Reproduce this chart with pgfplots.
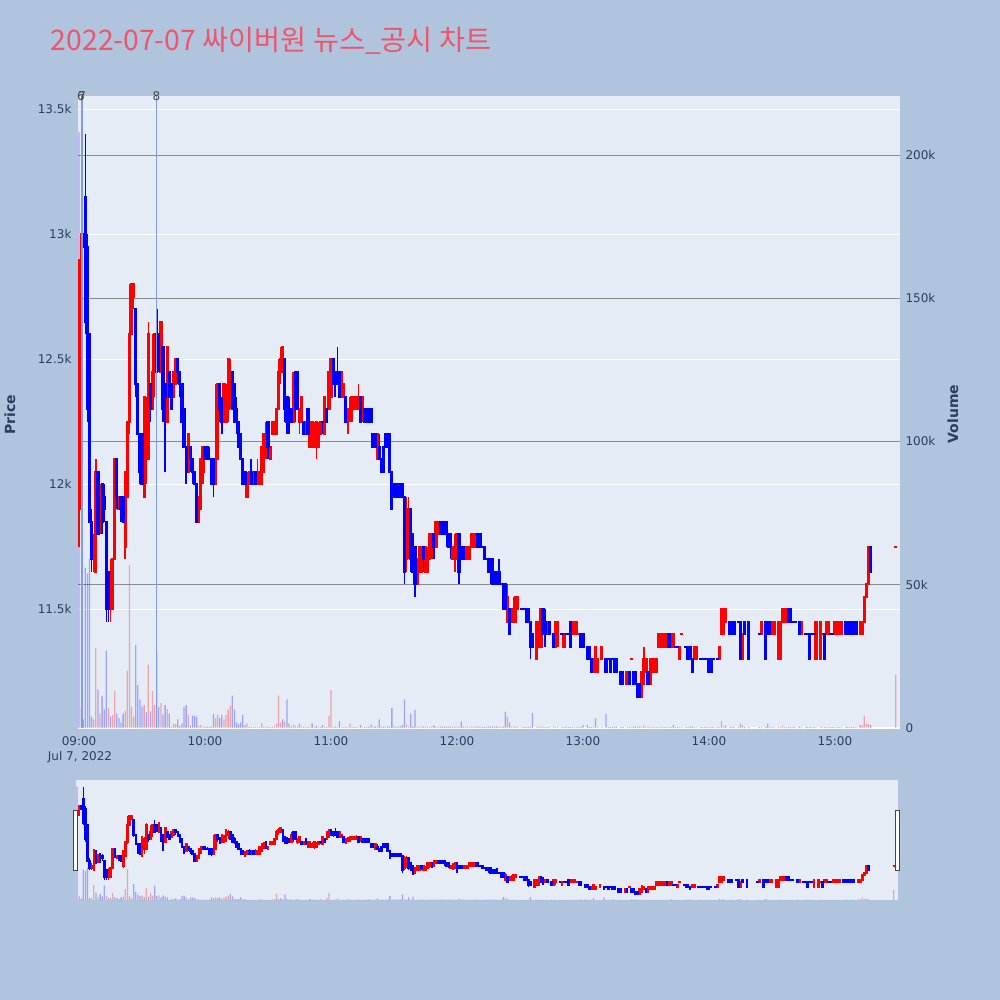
\documentclass[border=0pt]{standalone}
\usepackage{pgfplots}
\pgfplotsset{compat=1.18}
\usepackage{pgfplotstable}
\usepackage{fontspec}
\setmainfont{DejaVu Sans}
\newfontfamily\krfont{Noto Sans CJK KR}
\definecolor{paperbg}{RGB}{176,196,222}
\definecolor{plotbg}{RGB}{229,236,246}
\definecolor{tickc}{RGB}{42,63,95}
\definecolor{titlec}{RGB}{239,85,105}
\definecolor{gridg}{RGB}{140,140,140}
\definecolor{vlc}{RGB}{125,155,240}
\definecolor{labc}{RGB}{68,68,68}
\definecolor{upc}{RGB}{255,0,0}
\definecolor{dnc}{RGB}{0,0,255}

\pgfplotstableread{
m o h l c v vd
0 11900 12900 11750 12850 208 0
1 12850 13000 12800 13000 7 1
2 13000 13000 12950 12950 3 0
3 13150 13400 12600 12650 56 0
4 12950 13000 12250 12300 54 0
5 12600 12600 11850 11850 59 0
6 11850 11900 11650 11700 4 0
7 11700 11800 11650 11750 3 1
8 11650 12100 11650 12050 28 1
9 12050 12050 11800 11800 13.5 0
10 11850 12000 11800 11950 5 1
11 12000 12000 11800 11850 11 0
12 11950 12000 11850 11900 6.5 0
13 11850 11850 11450 11500 27 0
14 11650 11650 11450 11500 7 1
15 11500 11700 11450 11650 4 0
16 11500 11700 11500 11700 4.5 1
17 11700 12100 11700 12100 13 1
18 12100 12100 11900 11950 5 0
19 11900 11950 11900 11950 3.5 0
20 11950 11950 11850 11900 2 0
21 11950 11950 11850 11850 5 0
22 11750 12050 11700 12050 6 1
23 11950 12250 11950 12250 20 1
24 12250 12800 12200 12600 57 1
25 12600 12800 12600 12800 7.5 1
26 12750 12800 12700 12800 4 1
27 12700 12700 12350 12400 29 0
28 12400 12400 12200 12200 15 0
29 12200 12200 12000 12050 10 0
30 12200 12200 12000 12000 7.5 0
31 11950 12350 11950 12350 8 1
32 12100 12350 12000 12300 5.5 0
33 12100 12650 12100 12600 22 1
34 12400 12400 12250 12300 5.8 0
35 12300 12600 12300 12450 13 1
36 12450 12600 12350 12600 8 1
37 12600 12700 12450 12450 26 0
38 12600 12600 12450 12500 7.3 0
39 12450 12650 12450 12650 8.7 1
40 12550 12550 12250 12300 4.7 0
41 12400 12400 12050 12350 8 0
42 12250 12550 12250 12550 6.6 1
43 12450 12450 12350 12350 5 0
44 12400 12400 12300 12300 0.3 0
45 12350 12450 12350 12450 1.5 1
46 12400 12500 12400 12500 1.4 1
47 12500 12500 12400 12450 3 0
48 12450 12450 12350 12400 0.8 0
49 12400 12400 12250 12250 1.5 0
50 12300 12300 12150 12150 7.3 0
51 12150 12150 12000 12050 8 0
52 12050 12200 12050 12200 4.7 1
53 12150 12150 12050 12100 0.8 0
54 12100 12100 12000 12050 4.3 0
55 12050 12050 12000 12000 4.3 0
56 12000 12000 11850 11850 4 0
57 11850 11950 11850 11950 0.8 1
58 11900 12100 11900 12100 1 1
59 12050 12150 12000 12150 0.5 1
60 12150 12150 12100 12100 0.5 0
61 12150 12150 12100 12100 0.4 0
62 12100 12150 12100 12100 0.3 0
63 12100 12100 12000 12000 0.5 0
64 12100 12100 11950 12000 4.9 0
65 12000 12400 12000 12100 3.4 1
66 12100 12400 12100 12400 4.7 1
67 12400 12400 12250 12300 3.5 0
68 12300 12350 12200 12250 4.7 0
69 12250 12400 12250 12400 3 1
70 12250 12400 12250 12350 4.7 1
71 12300 12500 12250 12500 6.4 1
72 12400 12500 12300 12450 7.8 1
73 12450 12450 12300 12300 11.3 0
74 12400 12400 12250 12250 6.5 0
75 12300 12350 12200 12250 2 0
76 12250 12250 12150 12150 1.3 0
77 12200 12200 12100 12100 2 0
78 12100 12100 12000 12000 4.7 0
79 12050 12050 12000 12000 1 0
80 11950 12050 11950 12000 1.6 1
81 12000 12050 12000 12050 0.5 1
82 12050 12100 12000 12000 0.3 0
83 12000 12050 12000 12050 0.3 1
84 12050 12050 12000 12000 0.3 0
85 12000 12100 12000 12050 0.3 1
86 12000 12050 12000 12050 0.3 1
87 12000 12150 12000 12150 1.6 1
88 12050 12200 12050 12200 0.5 1
89 12150 12250 12100 12200 0.6 1
90 12250 12250 12100 12150 0.3 0
91 12100 12150 12100 12150 0.3 1
92 12200 12250 12200 12250 0.3 1
93 12200 12250 12200 12250 0.6 1
94 12200 12300 12200 12300 1.5 1
95 12300 12500 12300 12450 11.3 1
96 12450 12550 12400 12500 2 1
97 12450 12550 12450 12550 3 0
98 12500 12500 12250 12300 2.2 1
99 12350 12350 12200 12250 10 0
100 12300 12350 12200 12250 1.5 0
101 12300 12300 12250 12250 0.5 0
102 12250 12450 12250 12400 1.2 1
103 12450 12450 12250 12300 0.8 1
104 12450 12450 12300 12300 0.5 0
105 12250 12300 12200 12300 1.5 0
106 12250 12350 12250 12350 0.5 1
107 12250 12250 12200 12200 0.3 0
108 12200 12250 12200 12250 0.3 1
109 12300 12300 12200 12200 0.3 0
110 12150 12250 12150 12250 0.3 1
111 12150 12250 12150 12250 1.5 0
112 12150 12250 12150 12200 0.3 1
113 12150 12250 12100 12250 0.8 0
114 12150 12250 12150 12200 0.3 1
115 12200 12250 12200 12250 0.3 0
116 12250 12250 12200 12250 1 0
117 12200 12350 12200 12350 0.3 1
118 12300 12300 12250 12250 0.3 0
119 12300 12450 12300 12450 4.3 1
120 12350 12500 12350 12500 13.3 1
121 12500 12500 12400 12400 0.3 1
122 12450 12450 12350 12400 0.5 0
123 12450 12550 12400 12400 0.3 1
124 12450 12450 12350 12350 2.5 0
125 12350 12450 12350 12450 0.3 1
126 12350 12400 12350 12400 0.3 1
127 12350 12350 12250 12250 0.3 0
128 12250 12300 12200 12300 0.3 1
129 12300 12350 12250 12300 1.5 1
130 12300 12350 12250 12350 0.5 1
131 12300 12350 12300 12350 0.3 0
132 12300 12350 12300 12350 0.3 1
133 12300 12400 12300 12350 0.3 1
134 12350 12350 12250 12250 1 0
135 12300 12350 12250 12350 0.3 1
136 12300 12300 12250 12250 0.3 0
137 12300 12300 12250 12250 0.3 0
138 12300 12300 12250 12250 0.5 0
139 12300 12300 12250 12250 1.2 0
140 12200 12200 12150 12150 0.5 0
141 12200 12200 12150 12150 0.5 0
142 12100 12200 12100 12200 0.5 1
143 12150 12200 12100 12100 3 0
144 12100 12100 12050 12050 0.5 0
145 12150 12150 12050 12050 0.5 0
146 12200 12200 12150 12150 0.5 0
147 12200 12200 12150 12150 0.5 0
148 12200 12200 12050 12050 0.5 0
149 12050 12050 11900 11900 7 0
150 12000 12000 11950 11950 0.5 0
151 12000 12000 11950 11950 0.5 0
152 12000 12000 11950 11950 0.5 0
153 12000 12000 11950 11950 0.5 0
154 12000 12000 11950 11950 1 0
155 11950 11950 11600 11650 10 0
156 11700 11950 11650 11900 1.2 1
157 11750 11950 11700 11850 0.5 1
158 11900 11900 11650 11700 5 0
159 11800 11800 11650 11650 0.5 0
160 11750 11750 11550 11600 6.3 0
161 11600 11700 11600 11700 0.5 1
162 11650 11750 11650 11750 0.5 1
163 11650 11750 11650 11750 0.5 1
164 11750 11750 11650 11700 0.5 0
165 11650 11750 11650 11750 0.5 1
166 11650 11750 11650 11700 0.5 1
167 11700 11800 11700 11800 0.5 1
168 11750 11800 11700 11800 0.5 1
169 11800 11800 11700 11750 0.8 0
170 11750 11850 11750 11850 0.5 1
171 11800 11850 11800 11850 0.5 1
172 11850 11850 11800 11800 0.5 0
173 11850 11850 11800 11800 0.5 0
174 11850 11850 11800 11800 0.5 0
175 11850 11850 11750 11800 0.5 0
176 11800 11800 11750 11750 0.5 0
177 11800 11800 11700 11750 0.5 0
178 11700 11750 11700 11750 0.5 1
179 11700 11800 11650 11750 0.5 1
180 11700 11800 11700 11800 0.5 1
181 11800 11800 11600 11650 0.5 0
182 11750 11750 11700 11700 2.3 0
183 11750 11750 11700 11700 0.5 0
184 11700 11750 11700 11750 0.5 1
185 11700 11750 11700 11750 0.5 1
186 11700 11750 11700 11750 0.5 1
187 11750 11800 11750 11800 0.5 1
188 11750 11800 11750 11800 0.5 1
189 11750 11800 11750 11800 0.5 1
190 11800 11800 11750 11750 0.5 0
191 11800 11800 11750 11750 0.5 0
192 11750 11750 11750 11750 0.3 0
193 11750 11750 11700 11700 0.3 0
194 11700 11700 11700 11700 0.3 0
195 11700 11700 11650 11650 0.5 0
196 11700 11700 11600 11650 0.6 0
197 11700 11700 11600 11600 0.5 0
198 11650 11650 11600 11600 0.5 0
199 11650 11650 11600 11600 0.5 0
200 11650 11700 11600 11600 0.5 1
201 11600 11600 11600 11600 0.3 0
202 11600 11600 11500 11500 0.5 0
203 11600 11600 11500 11500 5.6 0
204 11450 11600 11450 11550 4 1
205 11500 11500 11400 11400 2 0
206 11450 11500 11450 11500 0.5 1
207 11450 11550 11450 11500 0.5 1
208 11450 11550 11450 11550 0.5 1
209 11500 11550 11500 11550 0.3 1
211 11500 11500 11500 11500 0.3 0
212 11500 11500 11500 11500 0.3 0
213 11500 11500 11450 11450 0.3 0
214 11500 11500 11450 11450 0.3 0
215 11450 11450 11300 11350 0.5 0
216 11400 11400 11350 11350 5.3 0
218 11300 11450 11300 11450 0.5 1
219 11350 11450 11350 11450 0.3 1
220 11350 11500 11350 11500 0.5 1
221 11500 11500 11400 11400 0.3 0
222 11450 11500 11350 11400 0.3 0
223 11400 11450 11400 11450 0.3 1
224 11450 11450 11400 11400 0.3 0
226 11400 11400 11350 11350 0.5 0
227 11350 11450 11350 11450 0.3 1
228 11400 11450 11350 11450 0.3 1
230 11400 11400 11400 11400 0.3 0
231 11350 11400 11350 11400 0.3 1
232 11400 11400 11400 11400 0.3 0
233 11400 11400 11400 11400 0.3 0
234 11450 11450 11350 11350 0.3 0
235 11400 11450 11400 11450 0.3 1
236 11400 11450 11400 11450 0.3 1
237 11400 11450 11400 11450 0.3 1
238 11400 11400 11400 11400 0.3 1
239 11400 11400 11350 11350 0.3 0
240 11400 11400 11350 11350 1 0
242 11350 11350 11300 11300 1 0
243 11350 11350 11300 11300 0.3 0
244 11300 11300 11250 11250 0.3 0
245 11250 11300 11250 11300 0.3 1
246 11250 11350 11250 11350 3.3 0
247 11250 11300 11250 11300 0.3 1
249 11300 11350 11300 11350 0.3 1
251 11300 11300 11250 11250 5 0
252 11300 11300 11300 11300 0.3 0
253 11300 11300 11250 11250 0.3 0
254 11300 11300 11300 11300 0.3 0
255 11300 11300 11250 11250 0.5 0
256 11300 11300 11250 11250 0.5 0
258 11250 11250 11200 11200 0.3 0
259 11250 11250 11200 11200 0.3 0
261 11200 11250 11200 11250 0.3 1
262 11250 11250 11200 11200 0.3 0
263 11300 11300 11300 11300 0.2 1
264 11250 11250 11200 11200 0.5 0
265 11250 11250 11200 11200 0.5 0
266 11200 11200 11150 11150 0.5 0
267 11200 11200 11150 11150 0.5 0
268 11150 11250 11150 11250 0.3 1
269 11200 11350 11200 11300 0.8 1
270 11250 11300 11250 11300 0.3 1
271 11250 11250 11200 11200 0.3 0
272 11200 11300 11200 11300 0.3 1
273 11250 11300 11250 11300 0.3 1
274 11250 11300 11250 11300 0.3 1
275 11250 11300 11250 11300 0.3 1
276 11350 11400 11350 11400 0.3 1
277 11350 11400 11350 11400 0.3 1
278 11350 11400 11350 11400 0.3 1
279 11350 11400 11350 11400 0.3 1
280 11350 11400 11350 11400 0.3 1
281 11400 11400 11350 11350 0.3 0
282 11350 11400 11350 11400 0.3 1
283 11350 11400 11350 11400 1 0
284 11350 11350 11350 11350 0.3 0
285 11350 11350 11350 11350 0.3 0
286 11300 11350 11300 11350 0.3 1
287 11400 11400 11400 11400 0.3 1
289 11350 11350 11350 11350 0.3 0
290 11350 11350 11300 11300 0.3 0
291 11350 11350 11300 11300 0.5 0
292 11300 11300 11250 11250 0.5 0
293 11300 11350 11300 11350 0.3 1
294 11300 11350 11300 11350 0.3 1
296 11300 11300 11300 11300 0.3 0
297 11300 11300 11300 11300 0.3 0
298 11300 11300 11300 11300 0.3 0
299 11300 11300 11300 11300 0.3 0
300 11300 11300 11250 11250 0.3 0
301 11300 11300 11250 11250 0.3 0
302 11300 11300 11300 11300 0.3 0
304 11300 11300 11300 11300 0.3 0
305 11300 11350 11300 11350 0.3 1
306 11400 11500 11400 11500 2.5 1
307 11400 11500 11400 11500 0.5 1
308 11450 11500 11450 11500 0.8 0
310 11450 11450 11400 11400 0.3 0
311 11450 11450 11400 11400 0.3 0
312 11450 11450 11400 11400 0.3 0
314 11450 11450 11450 11450 0.3 0
315 11450 11450 11300 11300 1.5 0
316 11300 11400 11300 11400 1 1
317 11450 11450 11400 11400 0.3 0
319 11450 11450 11300 11300 0.3 0
324 11400 11400 11400 11400 0.3 0
325 11400 11450 11400 11450 0.3 1
327 11450 11450 11300 11300 0.3 0
328 11450 11450 11400 11400 1.5 0
329 11450 11450 11400 11400 0.3 0
330 11400 11450 11400 11450 0.3 1
331 11400 11450 11400 11450 0.3 1
333 11300 11450 11300 11450 0.3 1
334 11300 11450 11300 11450 0.3 1
335 11450 11500 11450 11500 0.8 1
336 11450 11500 11450 11500 0.3 1
337 11450 11500 11450 11500 0.3 1
338 11500 11500 11450 11450 0.3 0
339 11500 11500 11450 11450 0.3 0
340 11450 11450 11450 11450 0.3 0
341 11450 11450 11450 11450 0.3 0
343 11450 11450 11400 11400 0.5 0
344 11400 11450 11400 11450 0.3 1
346 11400 11400 11400 11400 0.3 0
347 11400 11400 11400 11400 0.3 0
348 11400 11400 11300 11300 0.3 0
349 11400 11400 11400 11400 0.3 0
350 11400 11400 11400 11400 0.3 0
351 11300 11450 11300 11450 0.3 1
353 11300 11450 11300 11450 0.3 1
354 11400 11400 11400 11400 0.3 1
355 11400 11400 11300 11300 0.3 0
356 11400 11450 11400 11450 0.3 1
357 11400 11450 11400 11450 0.3 1
358 11400 11400 11400 11400 0.3 0
359 11400 11400 11400 11400 0.3 0
360 11400 11450 11400 11450 0.3 1
361 11400 11450 11400 11450 0.3 1
362 11400 11450 11400 11450 0.3 1
363 11400 11450 11400 11450 0.3 1
365 11450 11450 11400 11400 0.3 0
366 11450 11450 11400 11400 0.3 0
367 11450 11450 11400 11400 0.3 0
368 11450 11450 11400 11400 0.3 0
369 11450 11450 11400 11400 0.3 0
370 11450 11450 11400 11400 0.3 0
372 11400 11450 11400 11450 1 1
373 11400 11450 11400 11450 1 1
374 11450 11550 11450 11550 4.2 1
375 11550 11600 11550 11600 1.5 1
376 11600 11750 11600 11750 1.5 1
377 11750 11750 11650 11650 1 0
389 11750 11750 11750 11750 18.5 1
}\data

\pgfplotsset{
  upfilt/.style={restrict expr to domain={(\thisrow{c}>\thisrow{o})+(\thisrow{c}==\thisrow{o})*\thisrow{vd}}{0.5:1.5}},
  dnfilt/.style={restrict expr to domain={(\thisrow{c}>\thisrow{o})+(\thisrow{c}==\thisrow{o})*\thisrow{vd}}{-0.5:0.5}},
  vupfilt/.style={restrict expr to domain={\thisrow{vd}}{0.5:1.5}},
  vdnfilt/.style={restrict expr to domain={\thisrow{vd}}{-0.5:0.5}},
  mainpos/.style={at={(78pt,-728pt)}, anchor=south west, width=822pt, height=632pt,
    scale only axis, xmin=-0.5, xmax=391, scaled x ticks=false, scaled y ticks=false},
  slidepos/.style={at={(76pt,-900pt)}, anchor=south west, width=822pt, height=120pt,
    scale only axis, xmin=-0.5, xmax=391},
}

% #1 filter, #2 colour, #3 body width, #4 wick width, #5 min half body
\newcommand\drawcandles[5]{%
  \addplot[draw=none, mark=none, forget plot, #1, error bars/.cd, y dir=both, y explicit,
    error mark=none, error bar style={draw=#2, line width=#4}]
    table[x=m, y expr={(\thisrow{h}+\thisrow{l})/2}, y error expr={(\thisrow{h}-\thisrow{l})/2}]{\data};
  \addplot[draw=none, mark=none, forget plot, #1, error bars/.cd, y dir=both, y explicit,
    error mark=none, error bar style={draw=#2, line width=#3}]
    table[x=m, y expr={(\thisrow{o}+\thisrow{c})/2}, y error expr={abs(\thisrow{c}-\thisrow{o})/2+#5}]{\data};
}
\newcommand\drawvol[2]{%
  \addplot[ybar, bar width=1.3pt, bar shift=0pt, fill=#2, fill opacity=0.3, draw=none, forget plot, #1]
    table[x=m, y=v]{\data};
}

\begin{document}
\begin{tikzpicture}
\fill[paperbg] (0,0) rectangle (1000pt,-1000pt);
\fill[plotbg] (78pt,-96pt) rectangle (900pt,-728pt);
\fill[plotbg] (76pt,-780pt) rectangle (898pt,-900pt);

% price axis: white grid and labels
\begin{axis}[mainpos, ymin=11026, ymax=13552,
  axis line style={draw=none}, major tick length=0pt,
  ytick={11500,12000,12500,13000,13500}, yticklabels={11.5k,12k,12.5k,13k,13.5k},
  xtick={0,60,120,180,240,300,360},
  xticklabels={09:00,10:00,11:00,12:00,13:00,14:00,15:00},
  ymajorgrids, major grid style={white, line width=1pt},
  tick label style={font=\fontsize{12}{14}\selectfont, text=tickc},
  xticklabel style={yshift=-5pt},
  yticklabel style={xshift=-3pt},
  xtick pos=bottom, ytick pos=left]
\end{axis}

% volume axis
\begin{axis}[mainpos, ymin=0, ymax=220.6,
  axis y line*=right, axis x line=none, axis line style={draw=none}, major tick length=0pt,
  ytick={50,100,150,200}, yticklabels={50k,100k,150k,200k},
  extra y ticks={0}, extra y tick labels={0},
  extra y tick style={major grid style={white, line width=1.5pt}},
  ymajorgrids, major grid style={gridg, line width=1pt},
  tick label style={font=\fontsize{12}{14}\selectfont, text=tickc},
  yticklabel style={xshift=2pt}]
\drawvol{vupfilt}{upc}
\drawvol{vdnfilt}{dnc}
\end{axis}

% candles
\begin{axis}[mainpos, ymin=11026, ymax=13552, hide axis]
\drawcandles{upfilt}{upc}{3.2pt}{1.6pt}{4}
\drawcandles{dnfilt}{dnc}{3.2pt}{1.6pt}{4}
\addplot[vlc, line width=1pt, mark=none, forget plot] coordinates {(0.95,11026) (0.95,13552)};
\addplot[vlc, line width=1pt, mark=none, forget plot] coordinates {(1.57,11026) (1.57,13552)};
\addplot[vlc, line width=1pt, mark=none, forget plot] coordinates {(36.9,11026) (36.9,13552)};
\end{axis}

% range slider
\begin{axis}[slidepos, ymin=0, ymax=220.6, hide axis]
\drawvol{vupfilt}{upc}
\drawvol{vdnfilt}{dnc}
\end{axis}
\begin{axis}[slidepos, ymin=11026, ymax=13552, hide axis]
\drawcandles{upfilt}{upc}{2.6pt}{1.4pt}{21}
\drawcandles{dnfilt}{dnc}{2.6pt}{1.4pt}{21}
\end{axis}
\draw[fill=white, draw=labc, line width=0.8pt] (73.3pt,-810pt) rectangle (77.5pt,-870pt);
\draw[fill=white, draw=labc, line width=0.8pt] (895.5pt,-810pt) rectangle (899.7pt,-870pt);

\node[font=\fontsize{12}{14}\selectfont, text=labc, inner sep=0pt] at (81pt,-96pt) {6};
\node[font=\fontsize{12}{14}\selectfont, text=labc, inner sep=0pt] at (82.3pt,-96pt) {7};
\node[font=\fontsize{12}{14}\selectfont, text=labc, inner sep=0pt] at (156.5pt,-96pt) {8};

\node[anchor=base west, font=\krfont\fontsize{28.3}{31}\selectfont, text=titlec, inner sep=0pt]
  at (50.7pt,-50.7pt) {2022-07-07 싸이버원 뉴스\_공시 차트};
\node[rotate=90, font=\bfseries\fontsize{14}{16}\selectfont, text=tickc] at (10pt,-415pt) {Price};
\node[rotate=90, font=\bfseries\fontsize{14}{16}\selectfont, text=tickc] at (953pt,-414pt) {Volume};
\node[font=\fontsize{12}{14}\selectfont, text=tickc] at (80pt,-757pt) {Jul 7, 2022};

\pgfresetboundingbox
\useasboundingbox (0,0) rectangle (1000pt,-1000pt);
\end{tikzpicture}
\end{document}
